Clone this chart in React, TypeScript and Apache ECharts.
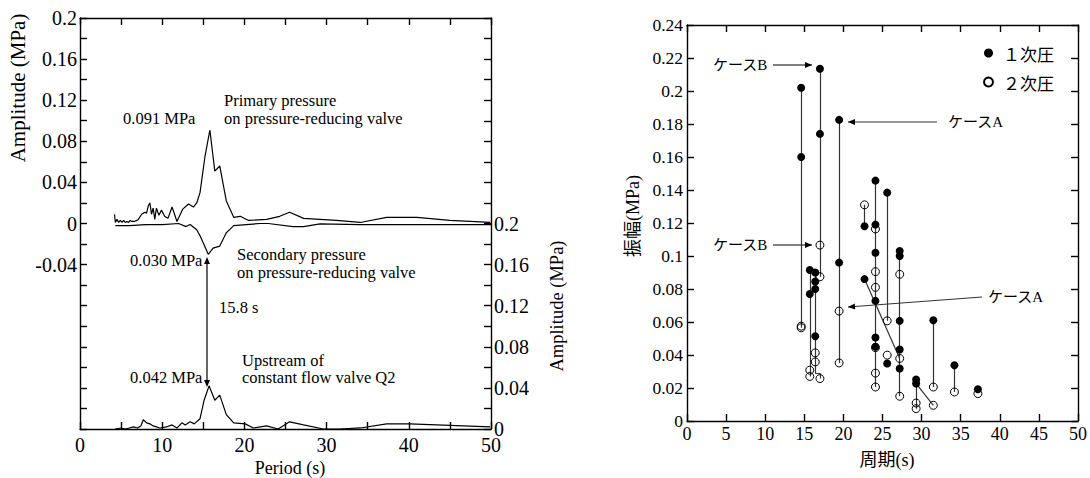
import React, { useEffect, useRef } from 'react';
import * as echarts from 'echarts';

const SERIF = 'Liberation Serif';
const MIXED = 'Liberation Serif, Noto Sans CJK JP';
const CJK = 'Noto Sans CJK JP';

// ---------- Left chart: amplitude spectra ----------
const primaryPeriod = [4.2, 4.3, 4.5, 4.7, 4.9, 5.1, 5.3, 5.5, 5.7, 5.9, 6.1, 6.3, 6.6, 6.9, 7.1, 7.5, 7.9, 8.1, 8.3, 8.5, 8.7, 8.9, 9.1, 9.3, 9.6, 9.9, 10.3, 10.7, 11.2, 11.8, 12.5, 13.2, 13.8, 14.2, 14.6, 15.2, 15.8, 16.4, 17.0, 17.8, 18.7, 19.5, 20.5, 22.7, 24.3, 25.5, 27.2, 31.2, 34.1, 37.3, 41.0, 45.0, 49.9];
const primaryAmp = [0.009, 0.001, 0.004, 0.001, 0.003, 0.001, 0.003, 0.001, 0.002, 0.001, 0.003, 0.002, 0.002, 0.003, 0.004, 0.009, 0.011, 0.010, 0.017, 0.020, 0.009, 0.015, 0.004, 0.015, 0.008, 0.013, 0.007, 0.005, 0.016, 0.002, 0.014, 0.019, 0.016, 0.020, 0.030, 0.065, 0.091, 0.051, 0.056, 0.022, 0.006, 0.007, 0.003, 0.004, 0.007, 0.011, 0.005, 0.003, 0.001, 0.006, 0.006, 0.003, 0.001];

// secondary pressure is drawn downward (negative values on the left axis)
const secondaryPeriod = [4.3, 6.0, 8.0, 10.0, 12.0, 12.9, 13.4, 14.2, 14.6, 15.0, 15.6, 16.2, 17.0, 17.8, 18.2, 18.7, 21.9, 22.9, 25.9, 27.2, 29.2, 34.0, 50.0];
const secondaryAmp = [-0.002, -0.002, -0.001, -0.001, 0.0, -0.003, -0.001, -0.006, -0.012, -0.019, -0.030, -0.024, -0.022, -0.009, -0.006, -0.002, 0.0, 0.0, -0.003, -0.003, -0.0003, -0.001, -0.001];

const q2Period = [4.3, 5.0, 5.5, 6.0, 6.5, 7.0, 7.4, 7.7, 8.1, 8.5, 8.9, 9.3, 9.7, 10.5, 11.2, 11.8, 12.4, 12.8, 13.4, 13.9, 14.6, 15.1, 15.7, 16.4, 17.0, 17.8, 18.7, 20.1, 21.1, 22.7, 24.1, 25.5, 27.2, 29.6, 31.6, 34.1, 37.3, 40.1, 49.9];
const q2Amp = [0.0, 0.001, 0.0, 0.001, 0.002, 0.001, 0.003, 0.009, 0.006, 0.005, 0.003, 0.002, 0.001, 0.002, 0.004, 0.001, 0.006, 0.004, 0.007, 0.005, 0.010, 0.028, 0.042, 0.028, 0.033, 0.014, 0.006, 0.005, 0.001, 0.003, 0.0, 0.007, 0.004, 0.0, 0.0, 0.001, 0.005, 0.005, 0.002];

// ---------- Right chart: amplitude vs period ----------
const firstPeriod = [14.6, 14.6, 15.7, 15.7, 16.4, 16.4, 16.4, 16.4, 17.0, 17.0, 19.45, 19.45, 22.7, 22.7, 24.1, 24.1, 24.1, 24.1, 24.1, 24.1, 25.6, 25.6, 27.2, 27.2, 27.2, 27.2, 27.2, 29.3, 29.3, 31.5, 34.2, 37.2];
const firstAmp = [0.202, 0.160, 0.0915, 0.077, 0.090, 0.0845, 0.080, 0.0514, 0.2135, 0.174, 0.1825, 0.096, 0.118, 0.086, 0.1457, 0.119, 0.102, 0.0728, 0.0506, 0.045, 0.1384, 0.0348, 0.103, 0.100, 0.0607, 0.0433, 0.0318, 0.0251, 0.0227, 0.0611, 0.0338, 0.0192];

const secondPeriod = [14.6, 14.6, 15.7, 15.7, 16.4, 16.4, 17.0, 17.0, 17.0, 19.45, 19.45, 22.7, 24.1, 24.1, 24.1, 24.1, 24.1, 24.1, 25.6, 25.6, 27.2, 27.2, 27.2, 29.3, 29.3, 31.5, 31.5, 34.2, 37.2];
const secondAmp = [0.0565, 0.0575, 0.0308, 0.027, 0.0413, 0.0358, 0.1066, 0.0874, 0.0257, 0.0666, 0.0352, 0.131, 0.1164, 0.0905, 0.081, 0.0445, 0.029, 0.0206, 0.0607, 0.0399, 0.0889, 0.0379, 0.015, 0.0109, 0.0075, 0.0206, 0.0095, 0.0176, 0.0166];

// connecting lines between paired measurements
const linkFromPeriod = [14.6, 15.7, 16.4, 16.4, 17.0, 17.0, 19.45, 22.7, 22.7, 24.1, 25.6, 27.2, 29.3, 29.3, 31.5, 34.2];
const linkFromAmp = [0.202, 0.0915, 0.090, 0.029, 0.029, 0.2135, 0.1825, 0.131, 0.086, 0.1457, 0.1384, 0.103, 0.0251, 0.0227, 0.0611, 0.0338];
const linkToPeriod = [14.6, 15.7, 16.4, 17.0, 17.0, 17.0, 19.45, 22.7, 27.2, 24.1, 25.6, 27.2, 29.3, 31.5, 31.5, 34.2];
const linkToAmp = [0.0565, 0.027, 0.029, 0.029, 0.0257, 0.0874, 0.0352, 0.118, 0.0379, 0.0206, 0.0607, 0.015, 0.0075, 0.0095, 0.0206, 0.0176];

const zip = (xs: number[], ys: number[]) => xs.map((x, i) => [x, ys[i]]);

function arrowHead(x1: number, y1: number, x2: number, y2: number, len = 7, half = 3) {
  const dx = x2 - x1;
  const dy = y2 - y1;
  const d = Math.sqrt(dx * dx + dy * dy) || 1;
  const ux = dx / d;
  const uy = dy / d;
  const bx = x2 - ux * len;
  const by = y2 - uy * len;
  return {
    type: 'polygon',
    shape: { points: [[x2, y2], [bx - uy * half, by + ux * half], [bx + uy * half, by - ux * half]] },
    style: { fill: '#000' },
    silent: true,
  };
}

function arrow(x1: number, y1: number, x2: number, y2: number, color = '#000') {
  return [
    { type: 'line', shape: { x1, y1, x2, y2 }, style: { stroke: color, lineWidth: 1.2 }, silent: true },
    arrowHead(x1, y1, x2, y2),
  ];
}

function txt(text: string, x: number, y: number, size: number, family: string, align = 'left', rotation = 0) {
  return {
    type: 'text',
    x,
    y,
    rotation,
    silent: true,
    style: { text, fontSize: size, fontFamily: family, fill: '#000', textAlign: align, textVerticalAlign: 'middle' },
  };
}

const axisLineStyle = { color: '#000', width: 1.4 };

export default function App() {
  const ref = useRef<HTMLDivElement>(null);

  useEffect(() => {
    if (!ref.current) return;
    const chart = echarts.init(ref.current, undefined, { renderer: 'svg' });

    const fmtLeft = (v: number) => {
      const r = Math.round(v * 100);
      if (r % 4 !== 0 || r < -4) return '';
      return String(r / 100);
    };
    const fmtRightL = (v: number) => {
      const r = Math.round(v * 100);
      if (r % 4 !== 0 || r > 20) return '';
      return String(r / 100);
    };

    const baseX = (gridIndex: number, position: string, showLabel: boolean, fontSize: number, margin: number, every10: boolean) => ({
      type: 'value',
      gridIndex,
      position,
      min: 0,
      max: 50,
      interval: 5,
      axisLine: { show: true, onZero: false, lineStyle: axisLineStyle },
      axisTick: { show: true, inside: true, length: 7, lineStyle: axisLineStyle },
      axisLabel: {
        show: showLabel,
        margin,
        color: '#000',
        fontFamily: SERIF,
        fontSize,
        formatter: (v: number) => (every10 ? (Math.round(v) % 10 === 0 ? String(Math.round(v)) : '') : String(Math.round(v))),
      },
      splitLine: { show: false },
    });

    const baseY = (gridIndex: number, position: string, min: number, max: number, label: any) => ({
      type: 'value',
      gridIndex,
      position,
      min,
      max,
      interval: 0.02,
      axisLine: { show: true, onZero: false, lineStyle: axisLineStyle },
      axisTick: { show: true, inside: true, length: 7, lineStyle: axisLineStyle },
      axisLabel: label,
      splitLine: { show: false },
    });

    const graphics: any[] = [
      // left chart axis names
      txt('Amplitude (MPa)', 18, 88, 21, SERIF, 'center', Math.PI / 2),
      txt('Amplitude (MPa)', 557, 306, 18.5, SERIF, 'center', Math.PI / 2),
      txt('Period (s)', 290, 468, 18, SERIF, 'center'),
      // left chart annotations
      txt('0.091 MPa', 123, 118, 16.5, SERIF),
      txt('Primary pressure', 224, 100, 16.5, SERIF),
      txt('on pressure-reducing valve', 224, 118, 16.5, SERIF),
      txt('0.030 MPa', 130, 260, 16.5, SERIF),
      txt('Secondary pressure', 237, 254, 16.5, SERIF),
      txt('on pressure-reducing valve', 237, 272, 16.5, SERIF),
      txt('15.8 s', 219, 307, 16.5, SERIF),
      txt('0.042 MPa', 130, 377, 16.5, SERIF),
      txt('Upstream of', 242, 360, 16.5, SERIF),
      txt('constant flow valve Q2', 242, 377, 16.5, SERIF),
      { type: 'line', shape: { x1: 207, y1: 262, x2: 207, y2: 382 }, style: { stroke: '#000', lineWidth: 1.2 }, silent: true },
      arrowHead(207, 300, 207, 257),
      arrowHead(207, 340, 207, 387),
      // right chart axis names
      txt('振幅(MPa)', 633, 216, 18, MIXED, 'center', Math.PI / 2),
      txt('周期(s)', 887, 460, 18, MIXED, 'center'),
      // right chart annotations
      txt('ケースB', 713, 65, 15, MIXED),
      ...arrow(773, 65, 812, 65),
      txt('ケースA', 948, 122, 15, MIXED),
      ...arrow(937, 122, 848, 122, '#333'),
      txt('ケースB', 713, 245, 15, MIXED),
      ...arrow(773, 245, 812, 245),
      txt('ケースA', 988, 297, 15, MIXED),
      ...arrow(982, 297, 848, 307, '#333'),
    ];

    const links = linkFromPeriod.map((x, i) => ({
      coords: [[x, linkFromAmp[i]], [linkToPeriod[i], linkToAmp[i]]],
    }));

    chart.setOption({
      animation: false,
      backgroundColor: '#fff',
      textStyle: { fontFamily: SERIF },
      grid: [
        { left: 80, top: 18, width: 411, height: 411, containLabel: false },
        { left: 687, top: 25, width: 394, height: 396, containLabel: false },
      ],
      legend: {
        data: ['１次圧', '２次圧'],
        orient: 'vertical',
        left: 983,
        top: 44,
        padding: 0,
        itemWidth: 9,
        itemHeight: 9,
        itemGap: 11,
        textStyle: { fontFamily: CJK, fontSize: 17, color: '#000', lineHeight: 18, padding: [0, 0, 0, 5] },
      },
      xAxis: [
        baseX(0, 'bottom', true, 20, 6, true),
        baseX(0, 'top', false, 20, 6, true),
        baseX(1, 'bottom', true, 18, 4, false),
        baseX(1, 'top', false, 18, 4, false),
      ],
      yAxis: [
        baseY(0, 'left', -0.2, 0.2, { show: true, margin: 3, color: '#000', fontFamily: SERIF, fontSize: 20, formatter: fmtLeft }),
        baseY(0, 'right', 0, 0.4, { show: true, margin: 3, color: '#000', fontFamily: SERIF, fontSize: 20, formatter: fmtRightL }),
        baseY(1, 'left', 0, 0.24, { show: true, margin: 4, color: '#000', fontFamily: SERIF, fontSize: 17.5, formatter: (v: number) => String(Math.round(v * 100) / 100) }),
        baseY(1, 'right', 0, 0.24, { show: false }),
      ],
      series: [
        {
          type: 'line',
          name: 'Primary pressure',
          xAxisIndex: 0,
          yAxisIndex: 0,
          data: zip(primaryPeriod, primaryAmp),
          symbol: 'none',
          lineStyle: { color: '#000', width: 1.2 },
        },
        {
          type: 'line',
          name: 'Secondary pressure',
          xAxisIndex: 0,
          yAxisIndex: 0,
          data: zip(secondaryPeriod, secondaryAmp),
          symbol: 'none',
          lineStyle: { color: '#000', width: 1.2 },
        },
        {
          type: 'line',
          name: 'Upstream Q2',
          xAxisIndex: 0,
          yAxisIndex: 1,
          data: zip(q2Period, q2Amp),
          symbol: 'none',
          lineStyle: { color: '#000', width: 1.2 },
        },
        {
          type: 'lines',
          coordinateSystem: 'cartesian2d',
          xAxisIndex: 2,
          yAxisIndex: 2,
          data: links,
          lineStyle: { color: '#333', width: 1.2, opacity: 1 },
          z: 2,
        },
        {
          type: 'scatter',
          name: '１次圧',
          xAxisIndex: 2,
          yAxisIndex: 2,
          data: zip(firstPeriod, firstAmp),
          symbol: 'circle',
          symbolSize: 8,
          itemStyle: { color: '#000', opacity: 1 },
          z: 3,
        },
        {
          type: 'scatter',
          name: '２次圧',
          xAxisIndex: 2,
          yAxisIndex: 2,
          data: zip(secondPeriod, secondAmp),
          symbol: 'circle',
          symbolSize: 8,
          itemStyle: { color: 'rgba(255,255,255,0)', borderColor: '#000', borderWidth: 1, opacity: 1 },
          z: 4,
        },
      ],
      graphic: graphics,
    });

    return () => chart.dispose();
  }, []);

  return (
    <div
      ref={ref}
      style={{ position: 'absolute', left: 0, top: 0, width: 1090, height: 478, background: '#fff' }}
    />
  );
}
